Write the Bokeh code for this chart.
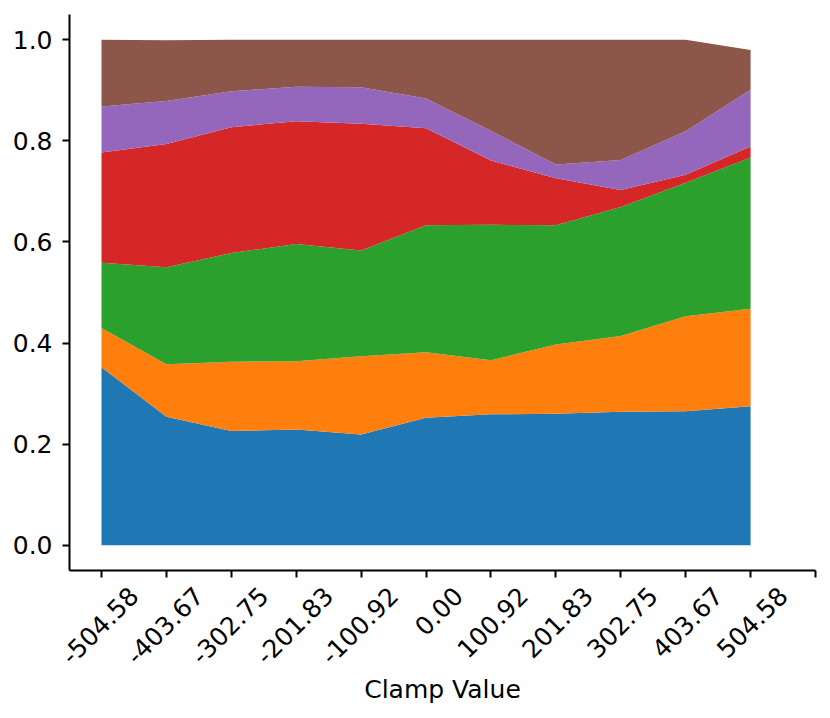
import math
from bokeh.plotting import figure
from bokeh.models import ColumnDataSource, FixedTicker, Range1d
from bokeh.embed import file_html
from bokeh.resources import INLINE

clamp_labels = ["-504.58", "-403.67", "-302.75", "-201.83", "-100.92", "0.00",
                "100.92", "201.83", "302.75", "403.67", "504.58"]
positions = list(range(len(clamp_labels)))

s1 = [0.352, 0.254, 0.226, 0.229, 0.219, 0.252, 0.259, 0.260, 0.264, 0.265, 0.275]
s2 = [0.078, 0.104, 0.137, 0.135, 0.155, 0.130, 0.107, 0.137, 0.150, 0.188, 0.193]
s3 = [0.129, 0.192, 0.215, 0.232, 0.209, 0.251, 0.268, 0.236, 0.255, 0.264, 0.299]
s4 = [0.218, 0.244, 0.249, 0.243, 0.251, 0.192, 0.127, 0.093, 0.034, 0.016, 0.022]
s5 = [0.091, 0.085, 0.071, 0.068, 0.072, 0.059, 0.059, 0.027, 0.059, 0.086, 0.112]
s6 = [0.132, 0.120, 0.102, 0.093, 0.094, 0.116, 0.180, 0.247, 0.238, 0.181, 0.079]

colors = ["#1f77b4", "#ff7f0e", "#2ca02c", "#d62728", "#9467bd", "#8c564b"]
names = ["s1", "s2", "s3", "s4", "s5", "s6"]

source = ColumnDataSource(dict(x=positions, s1=s1, s2=s2, s3=s3, s4=s4, s5=s5, s6=s6))

p = figure(frame_width=746, frame_height=556,
           x_range=Range1d(-0.493, 11.0), y_range=Range1d(-0.05, 1.05),
           output_backend="svg", toolbar_location=None,
           min_border_left=69, min_border_top=14, min_border_right=7,
           min_border_bottom=130)

p.varea_stack(stackers=names, x="x", color=colors, source=source)

p.grid.visible = False
p.outline_line_color = None
p.background_fill_color = "white"
p.border_fill_color = "white"

font = "DejaVu Sans"
for ax in (p.xaxis[0], p.yaxis[0]):
    ax.axis_line_color = "black"
    ax.axis_line_width = 2
    ax.major_tick_line_color = "black"
    ax.major_tick_line_width = 2
    ax.major_tick_out = 7
    ax.major_tick_in = 0
    ax.minor_tick_line_color = None
    ax.major_label_text_font = font
    ax.major_label_text_font_size = "25px"
    ax.major_label_text_color = "black"
    ax.major_label_standoff = 10

# x axis: visible tick marks drawn as "minor" ticks at the category positions,
# labels (major ticks, invisible marks) centred under them like matplotlib ha="center"
shift = 0.5
xa = p.xaxis[0]
tick_marks = list(range(len(clamp_labels) + 1))
xa.ticker = FixedTicker(ticks=[t + shift for t in positions], minor_ticks=tick_marks)
xa.major_label_overrides = {t + shift: lab for t, lab in zip(positions, clamp_labels)}
xa.major_label_orientation = math.pi / 4
xa.major_tick_line_color = None
xa.major_tick_out = 0
xa.minor_tick_line_color = "black"
xa.minor_tick_line_width = 2
xa.minor_tick_out = 7
xa.minor_tick_in = 0
xa.major_label_standoff = 14
xa.axis_label = "Clamp Value"
xa.axis_label_text_font = font
xa.axis_label_text_font_size = "25px"
xa.axis_label_text_font_style = "normal"
xa.axis_label_text_color = "black"
xa.axis_label_standoff = 0

p.yaxis.ticker = FixedTicker(ticks=[0.0, 0.2, 0.4, 0.6, 0.8, 1.0])
p.yaxis.major_label_overrides = {0.0: "0.0", 0.2: "0.2", 0.4: "0.4", 0.6: "0.6", 0.8: "0.8", 1.0: "1.0"}

open("out.html", "w").write(file_html(p, INLINE))
